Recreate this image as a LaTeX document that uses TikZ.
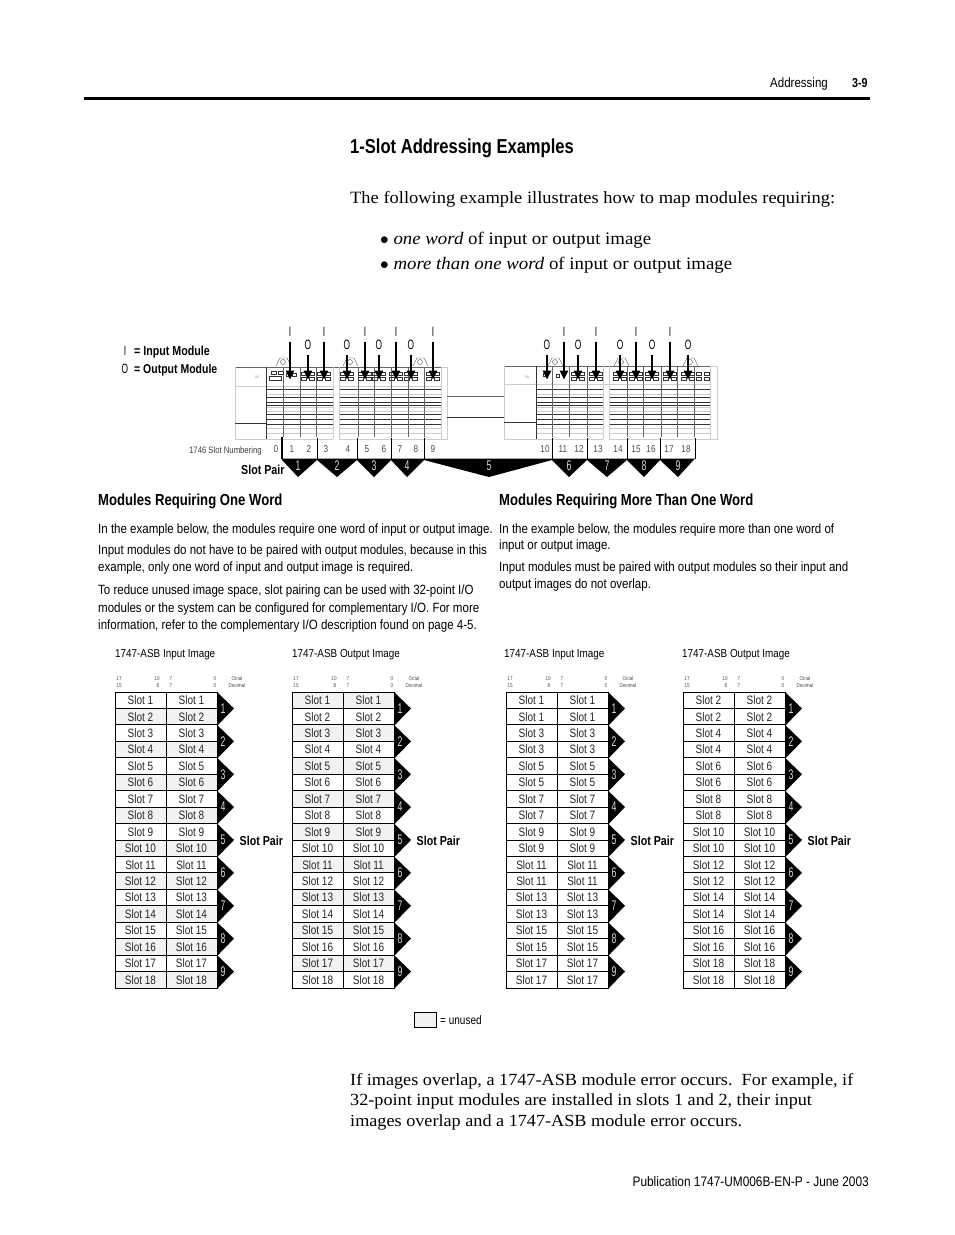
\documentclass[tikz,border=0pt]{standalone}
\usepackage{fontspec}
\usetikzlibrary{arrows.meta}
\setmainfont{Liberation Sans}
\newfontfamily\cond[FakeStretch=0.82]{Liberation Sans}
\newfontfamily\condw[FakeStretch=0.86]{Liberation Sans}
\newfontfamily\condn[FakeStretch=0.62]{Liberation Sans}
\newcommand{\condb}{\cond\bfseries}
\newfontfamily\body[FakeStretch=1.07]{Liberation Serif}
\definecolor{cellgray}{gray}{0.95}
\definecolor{rackgray}{gray}{0.72}
\tikzset{
  txt/.style={inner sep=0pt,anchor=base west,font=\condw\fontsize{13.4}{15}\selectfont},
  bodytxt/.style={inner sep=0pt,anchor=base west,font=\body\fontsize{17}{20}\selectfont},
  head/.style={inner sep=0pt,anchor=base west,font=\condb\fontsize{16}{18}\selectfont},
  boldlab/.style={inner sep=0pt,anchor=base west,font=\condb\fontsize{13}{15}\selectfont},
  tabtitle/.style={txt,font=\condw\fontsize{11.5}{14}\selectfont},
  tiny/.style={inner sep=0pt,font=\cond\fontsize{5.6}{6}\selectfont,text=black!70},
  cell/.style={draw=black,line width=0.8pt,inner sep=0pt,minimum width=51pt,minimum height=16.44pt,text height=8.8pt,text depth=0pt,font=\cond\fontsize{12.2}{14}\selectfont,text=black!85},
  chev/.style={fill=black,draw=none},
  chevnum/.style={inner sep=0pt,text=white!85!black,font=\condn\fontsize{14}{15}\selectfont},
  slotnum/.style={inner sep=0pt,font=\cond\fontsize{10}{12}\selectfont,text=black!70},
  iolab/.style={inner sep=0pt,font=\condn\fontsize{13.5}{15}\selectfont},
  ioarrow/.style={line width=1.5pt,-{Triangle[length=9pt,width=8.5pt]}},
  rackline/.style={line width=0.55pt,black!80},
  racklight/.style={line width=0.9pt,rackgray!70},
  rackv/.style={line width=0.7pt,black!60},
  tick/.style={line width=1pt,black},
  iconbox/.style={line width=0.4pt,black!80},
  keyshape/.style={line width=0.4pt,black!70}
}
% table: #1 name, #2 left x, #3 list of labels (18), #4 shade parity (0 or 1; 2 = none)
\newcommand{\slottable}[4]{%
  \foreach \lab [count=\rw] in {#3} {%
    \pgfmathsetmacro{\yc}{692+(\rw-0.5)*16.44}%
    \pgfmathtruncatemacro{\parity}{mod(\rw,2)}%
    \ifnum\parity=#4 \def\cellfill{cellgray}\else \def\cellfill{white}\fi
    \node[cell,fill=\cellfill] (#1a\rw) at (#2+25.5,\yc) {Slot \lab};
    \node[cell,fill=\cellfill] (#1b\rw) at (#2+76.5,\yc) {Slot \lab};
  }%
  \foreach \cv in {1,...,9} {%
    \pgfmathsetmacro{\yt}{692+(\cv-1)*32.88}%
    \pgfmathsetmacro{\ym}{\yt+16.44}%
    \pgfmathsetmacro{\yb}{\yt+32.88}%
    \fill[chev] (#2+102,\yt) -- (#2+119,\ym) -- (#2+103,\yb) -- (#2+102,\yb) -- cycle;
    \node[chevnum] (#1n\cv) at (#2+108,\ym) {\cv};
  }%
  \node[tiny] (#1o1) at (#2+4,678.5) {17};
  \node[tiny] (#1o2) at (#2+42,678.5) {10};
  \node[tiny] (#1o3) at (#2+56,678.5) {7};
  \node[tiny] (#1o4) at (#2+100,678.5) {0};
  \node[tiny] (#1o5) at (#2+122,678.5) {Octal};
  \node[tiny] (#1d1) at (#2+4,685.5) {15};
  \node[tiny] (#1d2) at (#2+43,685.5) {8};
  \node[tiny] (#1d3) at (#2+56,685.5) {7};
  \node[tiny] (#1d4) at (#2+100,685.5) {0};
  \node[tiny] (#1d5) at (#2+122,685.5) {Decimal};
  \node[boldlab] (#1sp) at (#2+124.5,845) {Slot Pair};
}
% rack part between x #1 .. #2
\newcommand{\rackrows}[2]{%
  \foreach \y in {394,407,411,428,433} \draw[racklight] (#1,\y) -- (#2,\y);
  \foreach \y in {389,397,402,405,414,419,424} \draw[rackline] (#1,\y) -- (#2,\y);
}
% module icon centred at x=#1
\newcommand{\modicon}[1]{%
  \foreach \dx in {-6.5,1.5} \foreach \y in {372.5,377.5} \draw[iconbox] (#1+\dx,\y) rectangle ++(5,3);
}
\newcommand{\keyicon}[1]{%
  \draw[keyshape] (#1-7,366) -- (#1-3,358) -- (#1+4,358) -- (#1+8,366);
  \draw[keyshape] (#1,362) circle (2.5);
}
\begin{document}
\begin{tikzpicture}[x=1pt,y=-1pt]
\useasboundingbox (0,0) rectangle (954,1235);
\fill[white] (0,0) rectangle (954,1235);
% page header
\node[txt] (hdr) at (770,87) {Addressing};
\node[inner sep=0pt,anchor=base west,font=\condb\fontsize{13}{15}\selectfont] (pg) at (852,87) {3-9};
\draw[line width=2.6pt] (84,98.5) -- (870,98.5);
\node[inner sep=0pt,anchor=base west,font=\condb\fontsize{20.2}{24}\selectfont] (title) at (350,153) {1-Slot Addressing Examples};
\node[bodytxt,font=\body\fontsize{17.25}{20}\selectfont] (b1) at (350,203) {The following example illustrates how to map modules requiring:};
\node[bodytxt,font=\body\fontsize{17.6}{20}\selectfont] (b2) at (380,244) {$\bullet$ {\itshape one word} of input or output image};
\node[bodytxt,font=\body\fontsize{17.6}{20}\selectfont] (b3) at (380,269) {$\bullet$ {\itshape more than one word} of input or output image};
% legend
\node[iolab] (li) at (125,351) {I};
\node[iolab] (lo) at (125,369) {O};
\node[boldlab] (ltxt1) at (134,355) {= Input Module};
\node[boldlab,font=\condb\fontsize{12.8}{15}\selectfont] (ltxt2) at (134,373) {= Output Module};
% rack 1
\rackrows{266}{333}
\rackrows{339}{441}
\draw[rackv] (235,367) -- (441,367);
\draw[racklight] (235,367) -- (235,439) -- (266,439);
\draw[racklight] (266,439) -- (333,439) (339,439) -- (447,439) -- (447,367) -- (441,367);
\draw[racklight] (235,386) -- (266,386);
\draw[racklight] (266,386) -- (333,386) (339,386) -- (441,386);
\draw[rackline] (235,423) -- (266,423);
\draw[rackline] (266,367) -- (266,439);
\foreach \x in {283,300,316,358,374,391,408,424} \draw[rackv] (\x,367) -- (\x,437);
\draw[racklight] (333,367) -- (333,439) (339,367) -- (339,439) (441,367) -- (441,439);
\node[tiny,text=black!60] (r1d) at (257,377.5) {\fontsize{3.5}{4}\selectfont 54};
% rack 2
\rackrows{536}{603}
\rackrows{609}{710}
\draw[rackv] (504,366) -- (710,366);
\draw[racklight] (504,366) -- (504,439) -- (603,439) (609,439) -- (717,439) -- (717,366) -- (710,366);
\draw[racklight] (504,384) -- (710,384);
\draw[rackline] (504,422) -- (536,422);
\draw[rackline] (536,366) -- (536,439);
\foreach \x in {552,569,587,627,643,661,677,694} \draw[rackv] (\x,366) -- (\x,437);
\draw[racklight] (603,366) -- (603,439) (609,366) -- (609,439) (710,366) -- (710,439);
\node[tiny,text=black!60] (r2d) at (527,377) {\fontsize{3.5}{4}\selectfont 54};
% rack link
\draw[line width=0.5pt,black!60] (447,396) -- (504,396);
\draw[line width=0.6pt,black!80] (447,417) -- (504,417);
% icons
\foreach \x in {308,324,347,365,379,396,411,433,578,596,620,636,652,670,688,703} \modicon{\x}
\draw[iconbox] (286,373) rectangle ++(3,3) (292,373) rectangle ++(4,3);
\draw[iconbox] (546,373) rectangle ++(-3,3);
\draw[iconbox] (556,374.5) rectangle ++(3,3);
\draw[iconbox] (271,371) rectangle ++(5,2.8) (278,371) rectangle ++(5,2.8);
\draw[iconbox] (269.5,376) rectangle ++(12,4.5);
\keyicon{283}\keyicon{350}\keyicon{420}\keyicon{555}\keyicon{621}\keyicon{690}
% I/O labels and arrows
\foreach \x [count=\i] in {290,324,365,396,433,564,596,636,670} {
  \node[iolab] (I\i) at (\x,332) {I};
  \coordinate (Ie\i) at (\x,379.5);
  \draw[ioarrow,shorten <=5pt] (I\i.south) -- (Ie\i);
}
\foreach \x [count=\i] in {308,347,379,411,547,578,620,652,688} {
  \node[iolab] (O\i) at (\x,345) {O};
  \coordinate (Oe\i) at (\x,379.5);
  \draw[ioarrow,shorten <=5pt] (O\i.south) -- (Oe\i);
}
% slot numbering
\node[inner sep=0pt,anchor=base west,font=\cond\fontsize{9.4}{12}\selectfont,text=black!75] (sn) at (189,453) {1746 Slot Numbering};
\foreach \x/\n [count=\i] in {276/0,292/1,309/2,326/3,348/4,367/5,384/6,400/7,416/8,433/9,545/10,563/11,579/12,598/13,618/14,636/15,651/16,669/17,686/18} {
  \node[slotnum] (s\i) at (\x,449) {\n};
}
% pair bracket
\fill[chev] (282,458.5) -- (695,458.5) -- (678,477) -- (660,460)
  -- (644,477) -- (627,460) -- (607,477) -- (587,460) -- (569,477) -- (552,460) -- (489,477) -- (424,460) -- (407,477) -- (391,460) -- (374,477) -- (357,460) -- (337,477) -- (317,460) -- (298,477) -- (282,460) -- cycle;
\foreach \x in {317,357,391,424,552,587,627,660,695} \draw[tick] (\x,438) -- (\x,459);
\draw[line width=1.6pt] (282,437) -- (282,459);
\foreach \x/\n [count=\i] in {298/1,337/2,374/3,407/4,489/5,569/6,607/7,644/8,678/9} {
  \node[chevnum] (p\i) at (\x,466) {\n};
}
\node[boldlab] (splab) at (241,474) {Slot Pair};
% section headings
\node[head] (h1) at (98,505) {Modules Requiring One Word};
\node[head] (h2) at (499,505) {Modules Requiring More Than One Word};
% left text
\node[txt] (l1) at (98,533) {In the example below, the modules require one word of input or output image.};
\node[txt] (l2) at (98,554) {Input modules do not have to be paired with output modules, because in this};
\node[txt] (l3) at (98,571) {example, only one word of input and output image is required.};
\node[txt] (l4) at (98,594) {To reduce unused image space, slot pairing can be used with 32-point I/O};
\node[txt] (l5) at (98,612) {modules or the system can be configured for complementary I/O. For more};
\node[txt] (l6) at (98,629) {information, refer to the complementary I/O description found on page 4-5.};
% right text
\node[txt] (m1) at (499,533) {In the example below, the modules require more than one word of};
\node[txt] (m2) at (499,549) {input or output image.};
\node[txt] (m3) at (499,571) {Input modules must be paired with output modules so their input and};
\node[txt] (m4) at (499,588) {output images do not overlap.};
% table titles
\node[tabtitle] (c1) at (115,657) {1747-ASB Input Image};
\node[tabtitle] (c2) at (292,657) {1747-ASB Output Image};
\node[tabtitle] (c3) at (504,657) {1747-ASB Input Image};
\node[tabtitle] (c4) at (682,657) {1747-ASB Output Image};
% tables
\slottable{ta}{115}{1,2,3,4,5,6,7,8,9,10,11,12,13,14,15,16,17,18}{0}
\slottable{tb}{292}{1,2,3,4,5,6,7,8,9,10,11,12,13,14,15,16,17,18}{1}
\slottable{tc}{506}{1,1,3,3,5,5,7,7,9,9,11,11,13,13,15,15,17,17}{2}
\slottable{td}{683}{2,2,4,4,6,6,8,8,10,10,12,12,14,14,16,16,18,18}{2}
% unused legend
\node[draw=black,line width=0.8pt,fill=cellgray,minimum width=22pt,minimum height=15pt,inner sep=0pt] (u) at (425,1020) {};
\node[txt,anchor=west,font=\cond\fontsize{12.2}{14}\selectfont] (ut) at (440,1020) {= unused};
% closing text
\node[bodytxt] (e1) at (350,1085) {If images overlap, a 1747-ASB module error occurs.\ \ For example, if};
\node[bodytxt] (e2) at (350,1105) {32-point input modules are installed in slots 1 and 2, their input};
\node[bodytxt] (e3) at (350,1126) {images overlap and a 1747-ASB module error occurs.};
% footer
\node[txt,anchor=base east,font=\condw\fontsize{13.8}{15}\selectfont] (foot) at (869,1186) {Publication 1747-UM006B-EN-P - June 2003};
\end{tikzpicture}
\end{document}
